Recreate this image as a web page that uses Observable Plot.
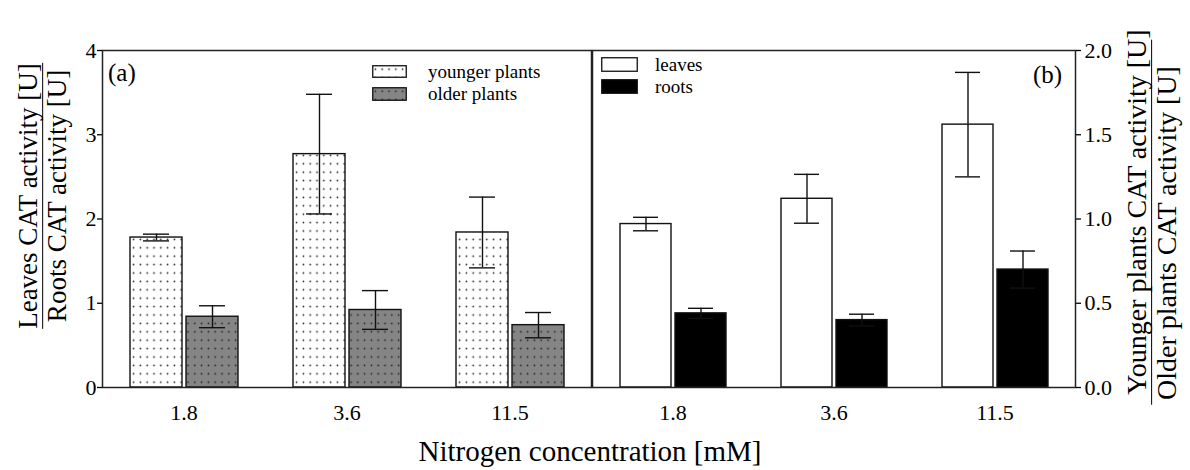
<!DOCTYPE html>
<html>
<head>
<meta charset="utf-8">
<script src="https://cdn.jsdelivr.net/npm/d3@7"></script>
<script src="https://cdn.jsdelivr.net/npm/@observablehq/plot@0.6"></script>
<style>
  html, body { margin: 0; padding: 0; background: #fff; }
  #wrap { position: relative; width: 1190px; height: 470px; overflow: hidden; font-family: "Liberation Serif", "Tinos", "Times New Roman", Times, "DejaVu Serif", serif; color: #000; }
  .abs { position: absolute; white-space: nowrap; line-height: 1; }
  .rot { position: absolute; transform: translate(-50%, -50%) rotate(-90deg); text-align: center; white-space: nowrap; line-height: 1.05; }
  .leg { position: absolute; display: flex; align-items: center; font-size: 19px; line-height: 1; height: 19px; white-space: nowrap; }
  .leg svg { display: block; }
</style>
</head>
<body>
<div id="wrap"></div>
<script>
// ---- data ----
const nitrogen = ["1.8", "3.6", "11.5"];
const ratioSeries = ["younger plants", "older plants"];
const ratioYounger = [1.78, 2.77, 1.84];
const ratioYoungerErr = [0.04, 0.71, 0.42];
const ratioOlder = [0.84, 0.92, 0.74];
const ratioOlderErr = [0.13, 0.23, 0.15];

const ageSeries = ["leaves", "roots"];
const ageLeaves = [0.97, 1.12, 1.56];
const ageLeavesErr = [0.04, 0.145, 0.31];
const ageRoots = [0.44, 0.40, 0.70];
const ageRootsErr = [0.03, 0.035, 0.11];

const ticksA = [0, 1, 2, 3, 4];
const ticksB = [0, 0.5, 1.0, 1.5, 2.0];

const SERIF = "'Liberation Serif', Tinos, 'Times New Roman', Times, 'DejaVu Serif', serif";

// ---- helpers ----
function rowsFor(series, vals, errs) {
  return nitrogen.flatMap((n, i) => series.map((s, k) => ({n, s, v: vals[k][i], e: errs[k][i]})));
}

function panel({series, vals, errs, fills, yDomain, ticks, fmt, anchor, width, marginLeft, marginRight, tickPadding}) {
  const rows = rowsFor(series, vals, errs);
  const s0 = rows.filter(d => d.s === series[0]);
  const s1 = rows.filter(d => d.s === series[1]);
  return Plot.plot({
    width, height: 470,
    marginTop: 50, marginBottom: 83, marginLeft, marginRight,
    style: {fontFamily: SERIF, fontSize: "22px", color: "#000", background: "transparent", overflow: "visible"},
    fx: {domain: nitrogen, padding: 0, label: null},
    x: {domain: series, paddingInner: 0.075, paddingOuter: 0.49, axis: null},
    y: {domain: yDomain},
    marks: [
      Plot.barY(s0, {fx: "n", x: "s", y: "v", fill: fills[0], stroke: "#111", strokeWidth: 1.4}),
      Plot.barY(s1, {fx: "n", x: "s", y: "v", fill: fills[1], stroke: "#111", strokeWidth: 1.4}),
      Plot.ruleX(rows, {fx: "n", x: "s", y1: d => d.v - d.e, y2: d => d.v + d.e, stroke: "#111", strokeWidth: 1.4}),
      Plot.tickY(rows, {fx: "n", x: "s", y: d => d.v + d.e, insetLeft: 13, insetRight: 13, stroke: "#111", strokeWidth: 1.4}),
      Plot.tickY(rows, {fx: "n", x: "s", y: d => d.v - d.e, insetLeft: 13, insetRight: 13, stroke: "#111", strokeWidth: 1.4}),
      Plot.axisFx({anchor: "bottom", tickSize: 0, tickPadding: 17, label: null}),
      Plot.axisY({anchor, ticks, tickFormat: fmt, tickSize: 5, tickPadding, label: null, strokeWidth: 1.3}),
      Plot.frame({facet: "super", stroke: "#222", strokeWidth: 1.5})
    ]
  });
}

function addPatterns(svg) {
  const defs = d3.select(svg).insert("defs", ":first-child");
  const mk = (id, bg) => {
    const p = defs.append("pattern").attr("id", id).attr("patternUnits", "userSpaceOnUse")
      .attr("width", 6.8).attr("height", 8.4);
    p.append("rect").attr("width", 6.8).attr("height", 8.4).attr("fill", bg);
    p.append("circle").attr("cx", 3.4).attr("cy", 4.2).attr("r", 0.85).attr("fill", "#222");
  };
  mk("dotsWhite", "#fff");
  mk("dotsGray", "#858585");
}

const wrap = document.getElementById("wrap");

const plotA = panel({
  series: ratioSeries, vals: [ratioYounger, ratioOlder], errs: [ratioYoungerErr, ratioOlderErr],
  fills: ["url(#dotsWhite)", "url(#dotsGray)"], yDomain: [0, 4], ticks: ticksA, fmt: d3.format("d"),
  anchor: "left", width: 591, marginLeft: 101, marginRight: 0, tickPadding: 1
});
addPatterns(plotA);
plotA.style.position = "absolute"; plotA.style.left = "0px"; plotA.style.top = "0px";
wrap.appendChild(plotA);

const plotB = panel({
  series: ageSeries, vals: [ageLeaves, ageRoots], errs: [ageLeavesErr, ageRootsErr],
  fills: ["#fff", "#000"], yDomain: [0, 2], ticks: ticksB, fmt: d3.format(".1f"),
  anchor: "right", width: 599, marginLeft: 0, marginRight: 114, tickPadding: 4
});
plotB.style.position = "absolute"; plotB.style.left = "591px"; plotB.style.top = "0px";
wrap.appendChild(plotB);

// ---- annotations (text, legends, axis titles) ----
function el(html, cls, css) {
  const d = document.createElement("div");
  d.className = cls; d.innerHTML = html; Object.assign(d.style, css);
  wrap.appendChild(d); return d;
}
const swatch = (fill, w, h) => `<svg width="${w}" height="${h}"><rect x="0.75" y="0.75" width="${w - 1.5}" height="${h - 1.5}" fill="${fill}" stroke="#111" stroke-width="1.3"/></svg>`;

el("(a)", "abs", {left: "108px", top: "60px", fontSize: "25px"});
el("(b)", "abs", {left: "1033px", top: "62px", fontSize: "25px"});

el(swatch("url(#dotsWhite)", 35, 13) + `<span style="margin-left:21px">${ratioSeries[0]}</span>`, "leg", {left: "372px", top: "62px"});
el(swatch("url(#dotsGray)", 35, 14) + `<span style="margin-left:21px">${ratioSeries[1]}</span>`, "leg", {left: "372px", top: "84px"});
el(swatch("#fff", 37, 15) + `<span style="margin-left:17px">${ageSeries[0]}</span>`, "leg", {left: "601px", top: "55px"});
el(swatch("#000", 37, 15) + `<span style="margin-left:17px">${ageSeries[1]}</span>`, "leg", {left: "601px", top: "77px"});

el(`<div>Leaves CAT activity [U]</div><div style="border-top:1.5px solid #000">Roots CAT activity [U]</div>`,
   "rot", {left: "43px", top: "196px", fontSize: "27px"});
el(`<div style="position:relative;left:10px">Younger plants CAT activity [U]</div><div style="border-top:1.5px solid #000"><span style="position:relative;left:-11px">Older plants CAT activity [U]</span></div>`,
   "rot", {left: "1152px", top: "222px", fontSize: "28px"});

el("Nitrogen concentration [mM]", "abs", {left: "590px", top: "437px", fontSize: "29px", transform: "translateX(-50%)"});
</script>
</body>
</html>
